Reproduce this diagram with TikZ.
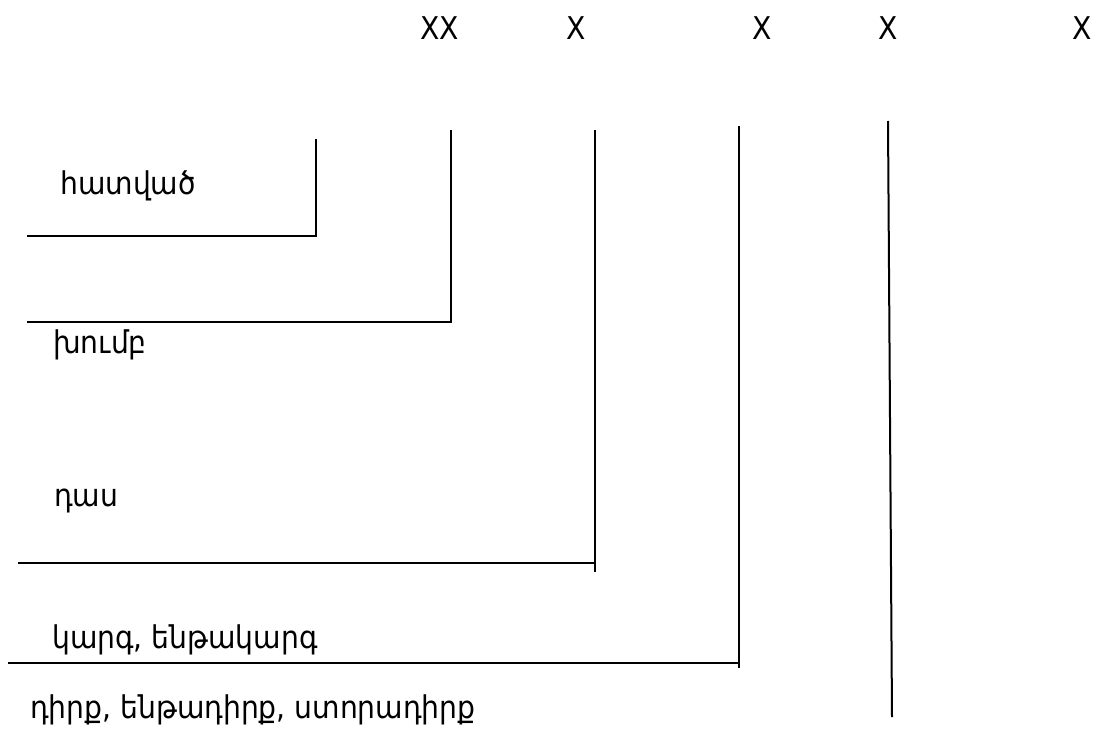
\documentclass[tikz,border=0pt]{standalone}
\usepackage{fontspec}
\setmainfont{DejaVu Sans Condensed}
\begin{document}
\begin{tikzpicture}[x=0.75pt,y=-0.75pt,
    ranktext/.style={anchor=base west, inner sep=0pt, font=\fontsize{23.5}{28}\selectfont},
    xlabel/.style={anchor=base, inner sep=0pt, font=\fontsize{23.5}{28}\selectfont},
    bracket/.style={line width=1.5pt, black}]
\useasboundingbox (0,0) rectangle (1103,731);
% top marks
\node[xlabel] (xx) at (440,40) {XX};
\node[xlabel] (xa) at (576,40) {X};
\node[xlabel] (xb) at (762,40) {X};
\node[xlabel] (xc) at (888,40) {X};
\node[xlabel] (xd) at (1082,40) {X};
% brackets
\coordinate (top1) at (316,139); \coordinate (cor1) at (316,236); \coordinate (end1) at (27,236);
\coordinate (top2) at (451,130); \coordinate (cor2) at (451,322); \coordinate (end2) at (27,322);
\coordinate (top3) at (595,130); \coordinate (bot3) at (595,572);
\coordinate (cor3) at (595,563); \coordinate (end3) at (18,563);
\coordinate (top4) at (739,126); \coordinate (bot4) at (739,668);
\coordinate (cor4) at (739,663); \coordinate (end4) at (8,663);
\coordinate (top5) at (888,121); \coordinate (bot5) at (892,717);
\draw[bracket] (top1) -- (cor1) -- (end1);
\draw[bracket] (top2) -- (cor2) -- (end2);
\draw[bracket] (top3) -- (bot3);
\draw[bracket] (cor3) -- (end3);
\draw[bracket] (top4) -- (bot4);
\draw[bracket] (cor4) -- (end4);
\draw[bracket] (top5) -- (bot5);
% ranks
\node[ranktext] (hatvats) at (60,195) {հատված};
\node[ranktext] (khumb) at (53,353) {խումբ};
\node[ranktext] (das) at (54,506) {դաս};
\node[ranktext] (karg) at (52,648) {կարգ, ենթակարգ};
\node[ranktext] (dirq) at (30,718) {դիրք, ենթադիրք, ստորադիրք};
\end{tikzpicture}
\end{document}
